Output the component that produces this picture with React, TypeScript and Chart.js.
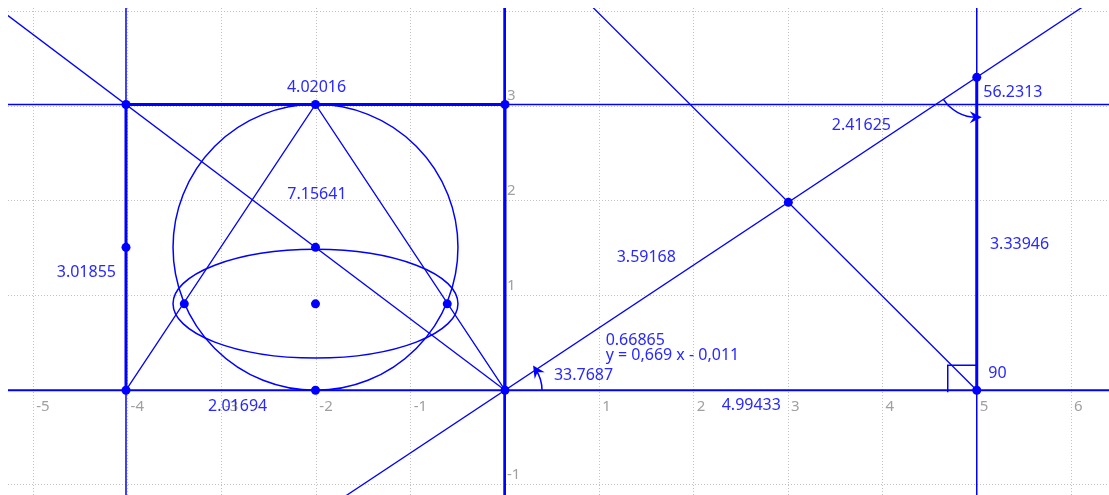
import React, { useEffect, useRef } from "react";
import { Chart, registerables } from "chart.js";
Chart.register(...registerables);

// ---- view window (data units) ----
const X_MIN = -5.2676;
const X_MAX = 6.4017;
const Y_MIN = -1.1066;
const Y_MAX = 4.0359;

// ---- tick labels ----
const xTickValues = [-5, -4, -3, -2, -1, 1, 2, 3, 4, 5, 6];
const yTickValues = [-1, 1, 2, 3];

// ---- rectangle polygon (thick; bottom side lies on the x-axis line) ----
const rectX = [0, 0, -4.017, -4.017];
const rectY = [0, 3.017, 3.017, 0];

// ---- triangle sides ----
const triX = [-4.017, -2.0085, 0];
const triY = [0, 3.017, 0];

// ---- thick vertical segment ----
const segX = [5.0, 5.0];
const segY = [0, 3.304];

// ---- infinite lines ----
const hLinesY = [0, 3.017];
const vLinesX = [-4.017, 0, 5.0];
const farX = [-6, 7];
const farY = [-2, 5];

// line through origin
const slopeLineX = [-2, 6.5];
const slopeLineY = [-1.322, 4.2965];

// diagonal (ends at origin)
const diagX = [-5.5, 0];
const diagY = [4.1305, 0];

// line from (5,0) up-left
const downX = [5.0, 0.5];
const downY = [0, 4.471];

// ---- points ----
const ptX = [-4.017, -4.017, 0, 0, -2.0085, -2.0085, -4.017, -2.0085, -2.0085, -3.399, -0.612, 3.003, 5.0, 5.0];
const ptY = [0, 3.017, 3.017, 0, 3.017, 0, 1.5085, 1.5085, 0.912, 0.912, 0.912, 1.984, 0, 3.304];

// ---- circle and ellipse ----
const circleC = [-2.0085, 1.5085];
const circleR = 1.51;
const ellipseC = [-2.0085, 0.914];
const ellipseAxes = [1.51, 0.574];

// ---- labels: text, anchor x, anchor y (left / baseline) ----
const labelTexts = ["4.02016", "7.15641", "3.01855", "2.01694", "3.59168", "0.66865", "y = 0,669 x - 0,011", "33.7687", "4.99433", "2.41625", "56.2313", "3.33946", "90"];
const labelX = [-2.311, -2.307, -4.751, -3.148, 1.184, 1.067, 1.067, 0.519, 2.297, 3.463, 5.069, 5.140, 5.122];
const labelY = [3.148, 2.019, 1.195, -0.220, 1.351, 0.477, 0.314, 0.108, -0.209, 2.748, 3.099, 1.488, 0.132];

const BLUE = "#0000ff";
const LABEL_BLUE = "rgb(40,40,255)";

function pts(xs: number[], ys: number[]) {
  return xs.map((x, i) => ({ x, y: ys[i] }));
}

function lineDs(data: { x: number; y: number }[], width: number) {
  return {
    data,
    showLine: true,
    borderColor: BLUE,
    backgroundColor: BLUE,
    borderWidth: width,
    pointRadius: 0,
    pointHoverRadius: 0,
    tension: 0,
    borderJoinStyle: "miter" as const,
  };
}

function arrowHead(ctx: CanvasRenderingContext2D, ex: number, ey: number, dx: number, dy: number) {
  const nx = -dy, ny = dx;
  ctx.beginPath();
  ctx.moveTo(ex + dx * 5, ey + dy * 5);
  ctx.lineTo(ex - dx * 7 + nx * 6, ey - dy * 7 + ny * 6);
  ctx.lineTo(ex - dx * 3, ey - dy * 3);
  ctx.lineTo(ex - dx * 7 - nx * 6, ey - dy * 7 - ny * 6);
  ctx.closePath();
  ctx.fill();
}

const overlay = {
  id: "geoOverlay",
  beforeDatasetsDraw(chart: any) {
    const ctx: CanvasRenderingContext2D = chart.ctx;
    const xs = chart.scales.x, ys = chart.scales.y;
    const ox = xs.getPixelForValue(0), oy = ys.getPixelForValue(0);
    ctx.save();
    // axes
    ctx.strokeStyle = "#5a5a7a";
    ctx.lineWidth = 1;
    ctx.beginPath();
    ctx.moveTo(Math.round(ox) - 1.5, 0);
    ctx.lineTo(Math.round(ox) - 1.5, chart.height);
    ctx.moveTo(0, Math.round(oy) + 0.5);
    ctx.lineTo(chart.width, Math.round(oy) + 0.5);
    ctx.stroke();
    // tick labels
    ctx.fillStyle = "#a0a0a0";
    ctx.font = '15px "Noto Sans"';
    ctx.textAlign = "left";
    ctx.textBaseline = "alphabetic";
    xTickValues.forEach((v) => {
      ctx.fillText(String(v), xs.getPixelForValue(v) + 3, oy + 21);
    });
    yTickValues.forEach((v) => {
      ctx.fillText(String(v), ox + 2, ys.getPixelForValue(v) - 6);
    });
    // circle
    ctx.strokeStyle = BLUE;
    ctx.lineWidth = 1.5;
    const ccx = xs.getPixelForValue(circleC[0]), ccy = ys.getPixelForValue(circleC[1]);
    const crx = Math.abs(xs.getPixelForValue(circleC[0] + circleR) - ccx);
    const cry = Math.abs(ys.getPixelForValue(circleC[1] + circleR) - ccy);
    ctx.beginPath();
    ctx.ellipse(ccx, ccy, crx, cry, 0, 0, Math.PI * 2);
    ctx.stroke();
    // ellipse
    const ecx = xs.getPixelForValue(ellipseC[0]), ecy = ys.getPixelForValue(ellipseC[1]);
    const erx = Math.abs(xs.getPixelForValue(ellipseC[0] + ellipseAxes[0]) - ecx);
    const ery = Math.abs(ys.getPixelForValue(ellipseC[1] + ellipseAxes[1]) - ecy);
    ctx.beginPath();
    ctx.ellipse(ecx, ecy, erx, ery, 0, 0, Math.PI * 2);
    ctx.stroke();
    ctx.restore();
  },
  afterDatasetsDraw(chart: any) {
    const ctx: CanvasRenderingContext2D = chart.ctx;
    const xs = chart.scales.x, ys = chart.scales.y;
    const ox = xs.getPixelForValue(0), oy = ys.getPixelForValue(0);
    ctx.save();
    ctx.strokeStyle = BLUE;
    ctx.fillStyle = BLUE;
    ctx.lineWidth = 1.5;

    // angle at origin
    const lx = xs.getPixelForValue(slopeLineX[1]), ly = ys.getPixelForValue(slopeLineY[1]);
    const th = Math.atan2(ly - oy, lx - ox);
    const r1 = 37;
    ctx.beginPath();
    ctx.arc(ox, oy, r1, 0, th, true);
    ctx.stroke();
    arrowHead(ctx, ox + r1 * Math.cos(th), oy + r1 * Math.sin(th), Math.sin(th), -Math.cos(th));

    // angle at top of vertical segment
    const qx = xs.getPixelForValue(segX[1]), qy = ys.getPixelForValue(segY[1]);
    const phi = Math.atan2(oy - qy, ox - qx);
    const r2 = 40;
    ctx.beginPath();
    ctx.arc(qx, qy, r2, phi, Math.PI / 2, true);
    ctx.stroke();
    arrowHead(ctx, qx + r2 * Math.cos(Math.PI / 2), qy + r2 * Math.sin(Math.PI / 2), 1, 0);

    // right angle mark
    const rx = xs.getPixelForValue(segX[0]), ry = ys.getPixelForValue(segY[0]);
    ctx.beginPath();
    ctx.moveTo(rx - 29, ry + 2);
    ctx.lineTo(rx - 29, ry - 25);
    ctx.lineTo(rx, ry - 25);
    ctx.stroke();

    // labels
    ctx.fillStyle = LABEL_BLUE;
    ctx.font = '16px "Noto Sans"';
    ctx.textAlign = "left";
    ctx.textBaseline = "alphabetic";
    labelTexts.forEach((t, i) => {
      ctx.fillText(t, xs.getPixelForValue(labelX[i]), ys.getPixelForValue(labelY[i]));
    });
    ctx.restore();
  },
};

export default function App() {
  const ref = useRef<HTMLCanvasElement | null>(null);
  useEffect(() => {
    if (!ref.current) return;
    const datasets: any[] = [];
    // points on top (first dataset is drawn last)
    datasets.push({
      data: pts(ptX, ptY),
      showLine: false,
      pointRadius: 4.5,
      pointHoverRadius: 4.5,
      pointBackgroundColor: BLUE,
      pointBorderWidth: 0,
      borderColor: BLUE,
    });
    datasets.push(lineDs(pts(rectX, rectY), 3));
    datasets.push(lineDs(pts(segX, segY), 3));
    datasets.push(lineDs(pts(triX, triY), 1.3));
    hLinesY.forEach((y, i) => datasets.push(lineDs(pts(farX, [y, y]), i === 0 ? 2 : 1.5)));
    vLinesX.forEach((x) => datasets.push(lineDs(pts([x, x], farY), x === 0 ? 2 : 1.5)));
    datasets.push(lineDs(pts(slopeLineX, slopeLineY), 1.3));
    datasets.push(lineDs(pts(diagX, diagY), 1.3));
    datasets.push(lineDs(pts(downX, downY), 1.3));

    const chart = new Chart(ref.current, {
      type: "scatter",
      data: { datasets },
      plugins: [overlay],
      options: {
        responsive: false,
        maintainAspectRatio: false,
        animation: false,
        events: [],
        layout: { padding: 0, autoPadding: false },
        plugins: { legend: { display: false }, tooltip: { enabled: false } },
        scales: {
          x: {
            type: "linear",
            min: X_MIN,
            max: X_MAX,
            afterFit: (s: any) => { s.height = 0; },
            ticks: { display: false, stepSize: 1, includeBounds: false },
            grid: { color: "#c2c2c2", lineWidth: 1, drawTicks: false },
            border: { display: false, dash: [1, 2] },
          },
          y: {
            type: "linear",
            min: Y_MIN,
            max: Y_MAX,
            afterFit: (s: any) => { s.width = 0; },
            ticks: { display: false, stepSize: 1, includeBounds: false },
            grid: { color: "#c2c2c2", lineWidth: 1, drawTicks: false },
            border: { display: false, dash: [1, 2] },
          },
        },
      } as any,
    });
    return () => chart.destroy();
  }, []);
  return (
    <div>
      <canvas
        ref={ref}
        width={1101}
        height={487}
        style={{ position: "fixed", left: 8, top: 8, width: 1101, height: 487, display: "block" }}
      />
    </div>
  );
}
